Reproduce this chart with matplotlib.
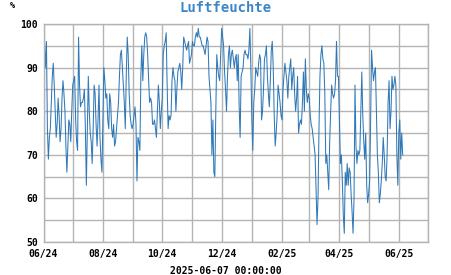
import matplotlib
matplotlib.use("Agg")
import matplotlib.pyplot as plt
import matplotlib.dates as mdates
import pandas as pd

# daily relative humidity (%), one list per month
jun24 = [95, 96, 90, 96, 76, 69, 74, 76, 82, 88, 91, 86, 80, 74, 77, 83, 79, 73, 76, 83,
         87, 84, 80, 72, 66, 72, 78, 77, 73, 80]
jul24 = [86, 87, 88, 78, 73, 71, 97, 86, 81, 82, 82, 83, 85, 76, 63, 76, 88, 80, 75, 73,
         68, 76, 86, 84, 77, 72, 78, 86, 74, 69, 66]
aug24 = [78, 90, 87, 83, 84, 78, 76, 84, 82, 76, 74, 77, 72, 73, 76, 79, 82, 88, 93, 94,
         90, 86, 82, 76, 88, 97, 93, 84, 79, 77, 76]
sep24 = [77, 79, 81, 77, 64, 74, 73, 71, 88, 95, 87, 93, 97, 98, 97, 93, 87, 82, 83, 82,
         77, 77, 78, 76, 74, 80, 86, 82, 76, 80]
oct24 = [83, 93, 95, 96, 98, 86, 76, 79, 78, 79, 87, 90, 88, 87, 80, 85, 89, 90, 91, 89,
         85, 90, 97, 96, 95, 94, 95, 96, 91, 92, 93]
nov24 = [96, 95, 95, 97, 98, 97, 99, 97, 97, 96, 95, 95, 94, 93, 95, 97, 96, 88, 85, 82,
         70, 78, 66, 65, 80, 93, 90, 88, 87, 93]
dec24 = [99, 97, 95, 89, 85, 80, 88, 93, 95, 90, 93, 94, 92, 90, 92, 93, 87, 93, 81, 74,
         88, 89, 90, 93, 94, 93, 93, 92, 94, 99, 90]
jan25 = [78, 71, 82, 85, 90, 89, 88, 91, 93, 92, 78, 80, 85, 92, 93, 95, 88, 84, 81, 87,
         94, 96, 90, 79, 72, 75, 79, 86, 84, 82, 79]
feb25 = [78, 85, 88, 91, 89, 87, 83, 88, 90, 92, 85, 88, 90, 84, 80, 83, 88, 75, 77, 78,
         77, 82, 89, 80, 92, 85, 82, 84]
mar25 = [83, 79, 77, 76, 74, 72, 70, 62, 54, 60, 76, 88, 93, 95, 92, 91, 84, 68, 70, 66,
         62, 73, 80, 86, 84, 83, 84, 87, 96, 88, 88]
apr25 = [78, 68, 70, 64, 56, 52, 66, 63, 68, 63, 67, 66, 61, 57, 52, 60, 86, 72, 68, 71,
         70, 71, 80, 89, 79, 73, 69, 75, 63, 59]
may25 = [61, 64, 77, 94, 90, 87, 89, 90, 80, 70, 66, 59, 61, 64, 68, 74, 70, 65, 64, 70,
         82, 87, 76, 80, 88, 85, 86, 88, 86, 70, 63]
jun25 = [75, 78, 69, 75, 70]

humidity = jun24 + jul24 + aug24 + sep24 + oct24 + nov24 + dec24 + jan25 + feb25 + mar25 + apr25 + may25 + jun25
days = pd.date_range("2024-06-01", periods=len(humidity), freq="D")

title = "Luftfeuchte"
unit = "%"
stamp = "2025-06-07 00:00:00"

mono = "DejaVu Sans Mono"
gridcol = "#b4b4b4"

fig = plt.figure(figsize=(4.51, 2.75), dpi=100)
ax = fig.add_axes([0.0965, 0.12, 0.8525, 0.7927])

ax.plot(days, humidity, color="#3079b8", lw=0.75)

ax.set_xlim(pd.Timestamp("2024-06-01"), pd.Timestamp("2025-07-01"))
ax.set_ylim(50, 100)

ax.xaxis.set_major_locator(mdates.MonthLocator(bymonth=[2, 4, 6, 8, 10, 12]))
ax.xaxis.set_minor_locator(mdates.MonthLocator())
ax.xaxis.set_major_formatter(mdates.DateFormatter("%m/%y"))
ax.set_yticks(range(50, 101, 10))
ax.set_yticks(range(55, 100, 10), minor=True)

ax.grid(True, which="both", color=gridcol, lw=1.0)
ax.set_axisbelow(True)
for s in ax.spines.values():
    s.set_color(gridcol)
    s.set_linewidth(1.0)

ax.tick_params(which="both", length=0)
ax.tick_params(axis="x", pad=5)
ax.tick_params(axis="y", pad=4)
for lbl in ax.get_xticklabels() + ax.get_yticklabels():
    lbl.set_fontfamily(mono)
    lbl.set_fontweight("bold")
    lbl.set_fontsize(7)

fig.text(0.5, 0.971, title, ha="center", va="center", family=mono,
         fontweight="bold", fontsize=10, color="#3d86c6")
fig.text(0.028, 0.98, unit, ha="center", va="center", family=mono,
         fontweight="bold", fontsize=6)
fig.text(0.5, 0.016, stamp, ha="center", va="center", family=mono,
         fontweight="bold", fontsize=7)

fig.savefig("out.png", dpi=100)
